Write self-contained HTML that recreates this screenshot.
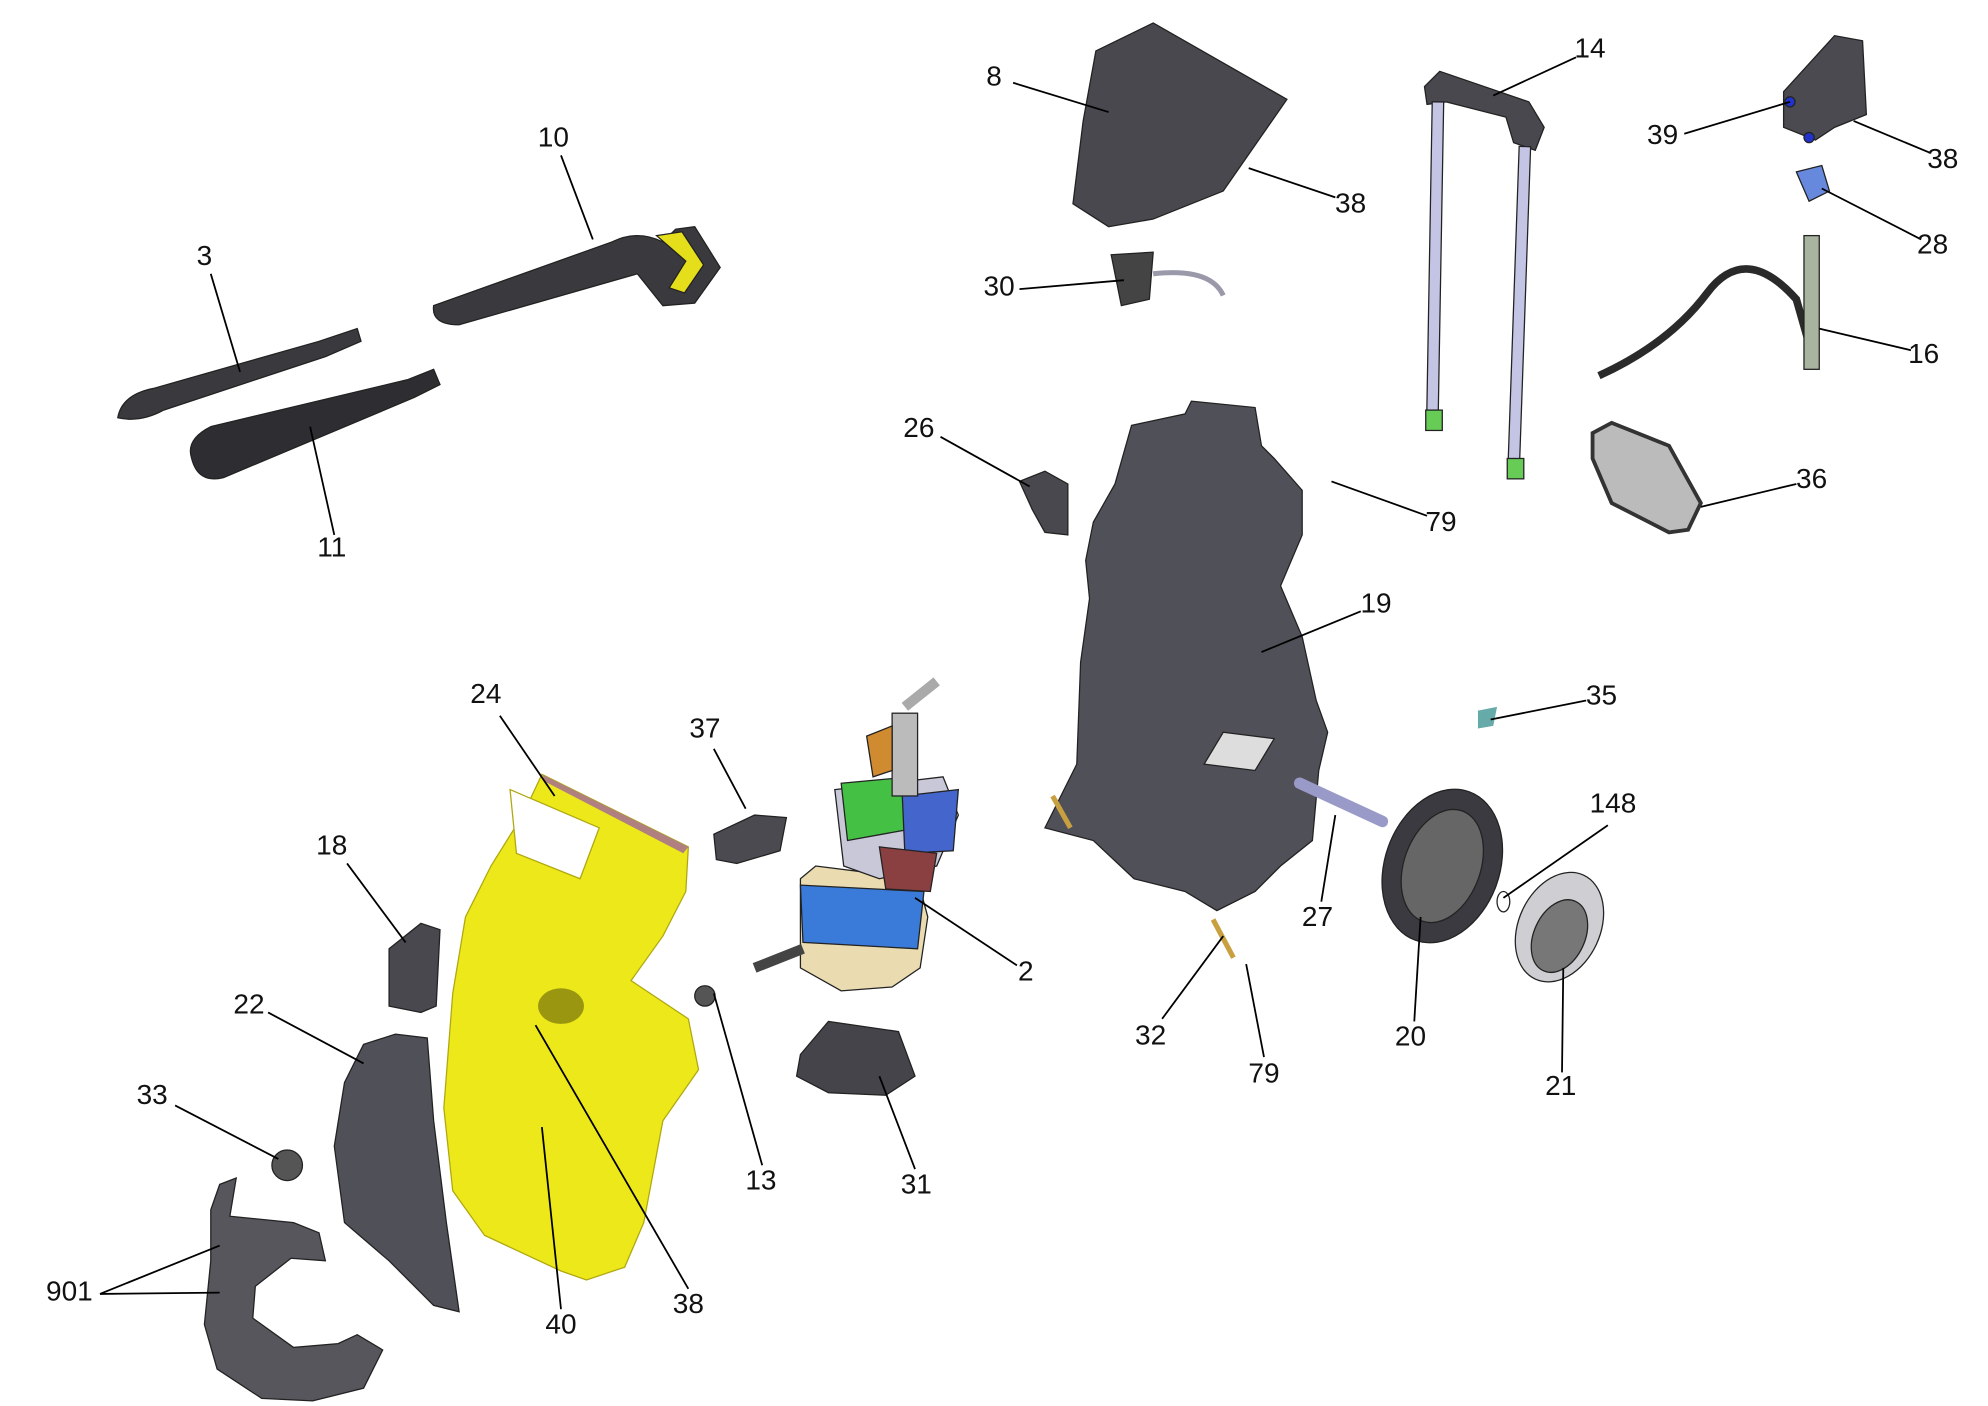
<!DOCTYPE html>
<html><head><meta charset="utf-8"><style>
html,body{margin:0;padding:0;background:#fff;}
svg{display:block;}
text{font-family:"Liberation Sans",sans-serif;font-size:22px;fill:#111;}
</style></head><body>
<svg width="1988" height="1406" viewBox="0 0 1560 1104" xmlns="http://www.w3.org/2000/svg">
<rect width="1560" height="1104" fill="#fff"/>
<g stroke="#222" stroke-width="1">
<path d="M92,328 Q95,310 120,305 L250,268 L280,258 L283,268 L255,280 L128,322 Q110,332 92,328Z" fill="#3a3a3e"/>
<path d="M150,360 Q145,345 165,335 L320,298 L340,290 L345,302 L325,312 L175,375 Q155,380 150,360Z" fill="#2e2e32"/>
<path d="M340,240 L480,190 Q500,180 520,190 L530,180 L545,178 L565,210 L545,238 L520,240 L500,215 L360,255 Q338,255 340,240Z" fill="#3a3a3e"/>
<path d="M515,185 L535,182 L552,208 L537,230 L525,226 L538,205Z" fill="#e4df1a"/>
<path d="M860,40 L905,18 L1010,78 L960,150 L905,172 L870,178 L842,160 L850,95Z" fill="#48484e"/>
<path d="M872,200 L905,198 L902,235 L880,240Z" fill="#444"/>
<path d="M905,215 Q950,210 960,232" fill="none" stroke="#99a" stroke-width="4"/>
<path d="M1118,68 L1130,56 L1200,80 L1212,100 L1205,118 L1188,112 L1182,92 L1135,80 L1120,82Z" fill="#48484e"/>
<rect x="1122" y="80" width="9" height="255" fill="#c4c4e4" transform="rotate(1 1126 200)"/>
<rect x="1188" y="115" width="9" height="258" fill="#c4c4e4" transform="rotate(2 1192 240)"/>
<rect x="1119" y="322" width="13" height="16" fill="#66cc55"/>
<rect x="1183" y="360" width="13" height="16" fill="#66cc55"/>
<path d="M1400,72 L1440,28 L1462,32 L1465,90 L1440,100 L1425,110 L1400,100Z" fill="#4a4a50"/>
<circle cx="1405" cy="80" r="4" fill="#2233cc"/><circle cx="1420" cy="108" r="4" fill="#2233cc"/>
<path d="M1410,135 L1430,130 L1436,150 L1420,158Z" fill="#6688dd"/>
<path d="M1255,295 Q1310,270 1340,230 Q1370,190 1410,235 L1420,270" fill="none" stroke="#2a2a2a" stroke-width="6"/>
<rect x="1416" y="185" width="12" height="105" fill="#a8b4a0"/>
<path d="M1250,340 L1265,332 L1310,350 L1335,395 L1325,416 L1310,418 L1265,395 L1250,360Z" fill="#bbb" stroke="#333" stroke-width="3"/>
<path d="M800,378 L820,370 L838,380 L838,420 L820,418 L810,400Z" fill="#48484e"/>
<path d="M888,334 L930,325 L935,315 L985,320 L990,350 L1000,360 L1022,385 L1022,420 L1005,460 L1022,500 L1033,550 L1042,575 L1035,605 L1030,660 L1005,680 L985,700 L955,715 L930,700 L890,690 L858,660 L820,650 L845,600 L848,520 L855,470 L852,440 L858,410 L875,380Z" fill="#505058"/>
<path d="M960,575 L1000,580 L985,605 L945,600Z" fill="#ddd"/>
<path d="M1020,615 L1085,645" stroke="#9a9ac8" stroke-width="9" stroke-linecap="round"/>
<path d="M1160,558 L1175,555 L1172,570 L1160,572Z" fill="#6aa" stroke="none"/>
<ellipse cx="1132" cy="680" rx="45" ry="62" transform="rotate(20 1132 680)" fill="#3a3a40"/>
<ellipse cx="1132" cy="680" rx="30" ry="46" transform="rotate(20 1132 680)" fill="#666"/>
<ellipse cx="1224" cy="728" rx="32" ry="45" transform="rotate(25 1224 728)" fill="#cfcfd3"/>
<ellipse cx="1224" cy="735" rx="20" ry="30" transform="rotate(25 1224 735)" fill="#777"/>
<ellipse cx="1180" cy="708" rx="5" ry="8" fill="none"/>
<path d="M952,722 L968,752" stroke="#c8a040" stroke-width="4"/>
<path d="M826,625 L840,650" stroke="#c8a040" stroke-width="4"/>
<path d="M628,690 L640,680 L720,690 L728,720 L722,760 L700,775 L660,778 L628,760Z" fill="#eadcb0"/>
<path d="M628,695 L725,700 L720,745 L630,740Z" fill="#3a7ad8"/>
<path d="M655,620 L740,610 L752,640 L735,680 L690,690 L662,680Z" fill="#c8c8d8"/>
<path d="M660,615 L715,610 L720,650 L665,660Z" fill="#44c044"/>
<path d="M708,625 L752,620 L748,668 L710,670Z" fill="#4466cc"/>
<path d="M690,665 L735,670 L730,700 L695,698Z" fill="#8a4040"/>
<rect x="700" y="560" width="20" height="65" fill="#bbb"/>
<path d="M680,578 L700,570 L700,605 L685,610Z" fill="#d08a30"/>
<path d="M710,555 L735,535" stroke="#aaa" stroke-width="8"/>
<path d="M592,760 L630,745" stroke="#444" stroke-width="8"/>
<path d="M560,655 L592,640 L617,642 L612,668 L578,678 L562,675Z" fill="#4a4a50"/>
<circle cx="553" cy="782" r="8" fill="#555"/>
<path d="M628,828 L650,802 L705,810 L718,845 L695,860 L650,858 L625,845Z" fill="#44444a"/>
<path d="M425,608 L540,665 L538,700 L520,735 L495,770 L540,800 L548,840 L520,880 L505,960 L490,995 L460,1005 L440,998 L380,970 L355,935 L348,870 L355,780 L365,720 L385,680 L410,640Z" fill="#ece81a" stroke="#b0a810"/>
<path d="M425,608 L540,665 L536,670 L428,614Z" fill="#b08080" stroke="none"/>
<ellipse cx="440" cy="790" rx="18" ry="14" fill="#9a9610" stroke="none"/>
<path d="M400,620 L470,650 L455,690 L405,670Z" fill="#fff" stroke="#b0a810"/>
<path d="M305,745 L330,725 L345,730 L342,790 L330,795 L305,790Z" fill="#48484e"/>
<path d="M285,820 L310,812 L335,815 L340,880 L350,960 L360,1030 L340,1025 L305,990 L270,960 L262,900 L270,850Z" fill="#505058"/>
<circle cx="225" cy="915" r="12" fill="#555"/>
<path d="M172,930 L185,925 L180,955 L230,960 L250,968 L255,990 L228,988 L200,1010 L198,1035 L230,1058 L265,1055 L280,1048 L300,1060 L285,1090 L245,1100 L205,1098 L170,1075 L160,1040 L165,990 L165,950Z" fill="#56565c"/>
</g>
<g stroke="#000" stroke-width="1.4" fill="none">
<path d="M795,65 L870,88"/><path d="M440,122 L465,188"/><path d="M165,215 L188,292"/><path d="M262,420 L243,335"/>
<path d="M1048,155 L980,132"/><path d="M800,227 L882,220"/><path d="M1237,45 L1172,75"/><path d="M1322,105 L1405,80"/>
<path d="M1515,120 L1455,95"/><path d="M1508,188 L1430,148"/><path d="M1500,275 L1428,258"/><path d="M1410,380 L1335,398"/>
<path d="M738,343 L808,382"/><path d="M1120,405 L1045,378"/><path d="M1068,480 L990,512"/><path d="M1245,550 L1170,565"/>
<path d="M1262,648 L1180,705"/><path d="M1037,708 L1048,640"/><path d="M1110,802 L1115,720"/><path d="M1226,842 L1227,760"/>
<path d="M912,800 L960,735"/><path d="M992,830 L978,757"/><path d="M798,758 L718,705"/><path d="M598,915 L560,780"/>
<path d="M718,918 L690,845"/><path d="M560,588 L585,635"/><path d="M392,562 L435,625"/><path d="M272,678 L318,740"/>
<path d="M210,795 L285,835"/><path d="M137,868 L218,910"/><path d="M78,1016 L172,978"/><path d="M78,1016 L172,1015"/>
<path d="M440,1028 L425,885"/><path d="M540,1012 L420,805"/>
</g>
<g text-anchor="middle" transform="translate(-3,-3)">
<text x="783" y="70">8</text><text x="437" y="118">10</text><text x="163" y="211">3</text><text x="263" y="440">11</text>
<text x="1063" y="170">38</text><text x="787" y="235">30</text><text x="1251" y="48">14</text><text x="1308" y="116">39</text>
<text x="1528" y="135">38</text><text x="1520" y="202">28</text><text x="1513" y="288">16</text><text x="1425" y="386">36</text>
<text x="724" y="346">26</text><text x="1134" y="420">79</text><text x="1083" y="484">19</text><text x="1260" y="556">35</text>
<text x="1269" y="641">148</text><text x="1037" y="730">27</text><text x="1110" y="824">20</text><text x="1228" y="863">21</text>
<text x="906" y="823">32</text><text x="995" y="853">79</text><text x="808" y="773">2</text><text x="600" y="937">13</text>
<text x="722" y="940">31</text><text x="556" y="582">37</text><text x="384" y="555">24</text><text x="263" y="674">18</text>
<text x="198" y="799">22</text><text x="122" y="870">33</text><text x="57" y="1024">901</text><text x="443" y="1050">40</text>
<text x="543" y="1034">38</text>
</g>
</svg>
</body></html>
